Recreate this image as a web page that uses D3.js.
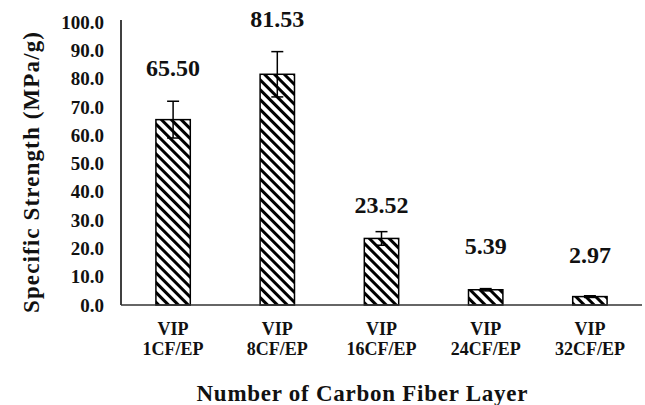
<!DOCTYPE html>
<html><head><meta charset="utf-8">
<script src="https://cdn.jsdelivr.net/npm/d3@7"></script>
<style>body{margin:0;background:#fff}svg{display:block}</style>
</head><body><svg id="c" width="645" height="405"></svg>
<script>
const categories = [["VIP","1CF/EP"],["VIP","8CF/EP"],["VIP","16CF/EP"],["VIP","24CF/EP"],["VIP","32CF/EP"]];
const values = [65.50, 81.53, 23.52, 5.39, 2.97];
const errors = [6.5, 8.0, 2.4, 0.4, 0.3];
const labelAnchors = [80.9, 98.2, 32.5, 18.0, 14.8];
const yTicks = [0,10,20,30,40,50,60,70,80,90,100];

const FONT = '"Liberation Serif", "Times New Roman", serif';
const svg = d3.select("#c");
const m = {l:121, r:642, t:22, b:305};
const x = d3.scaleBand().domain(d3.range(values.length)).range([m.l, m.r]).paddingInner(0.67).paddingOuter(0.335);
const y = d3.scaleLinear().domain([0,100]).range([m.b, m.t]);

function txt(sel, size){ return sel.style("font-family",FONT).style("font-weight","bold").style("font-size",size+"px").attr("fill","#111"); }

const defs = svg.append("defs");
const pat = defs.append("pattern").attr("id","hatch").attr("patternUnits","userSpaceOnUse")
  .attr("width",7).attr("height",7).attr("patternTransform","rotate(-45)");
pat.append("rect").attr("width",7).attr("height",7).attr("fill","#fff");
pat.append("line").attr("x1",1.5).attr("y1",0).attr("x2",1.5).attr("y2",7).attr("stroke","#000").attr("stroke-width",3);

// y tick labels
txt(svg.append("g").selectAll("text").data(yTicks).join("text")
  .attr("x",104).attr("y",d=>y(d)).attr("dy","0.35em").attr("text-anchor","end"),19).text(d=>d.toFixed(1));

// bars
svg.append("g").selectAll("rect").data(values).join("rect")
  .attr("x",(d,i)=>x(i)).attr("width",x.bandwidth())
  .attr("y",d=>y(d)).attr("height",d=>y(0)-y(d))
  .attr("fill","url(#hatch)").attr("stroke","#000").attr("stroke-width",1.5);

// axes lines
svg.append("line").attr("x1",m.l).attr("x2",m.l).attr("y1",m.t-2).attr("y2",m.b).attr("stroke","#000").attr("stroke-width",1.5);
svg.append("line").attr("x1",m.l).attr("x2",m.r).attr("y1",m.b).attr("y2",m.b).attr("stroke","#333").attr("stroke-width",1.5);

// error bars
const eb = svg.append("g").attr("stroke","#000").attr("stroke-width",1.5);
values.forEach((v,i)=>{
  const cx = x(i)+x.bandwidth()/2, e = errors[i];
  eb.append("line").attr("x1",cx).attr("x2",cx).attr("y1",y(v+e)).attr("y2",y(v-e));
  eb.append("line").attr("x1",cx-6).attr("x2",cx+6).attr("y1",y(v+e)).attr("y2",y(v+e));
  eb.append("line").attr("x1",cx-6).attr("x2",cx+6).attr("y1",y(v-e)).attr("y2",y(v-e));
});

// data labels
txt(svg.append("g").selectAll("text").data(values).join("text")
  .attr("x",(d,i)=>x(i)+x.bandwidth()/2).attr("y",(d,i)=>y(labelAnchors[i]))
  .attr("text-anchor","middle"),24).text(d=>d.toFixed(2));

// category labels
const cl = txt(svg.append("g").selectAll("text").data(categories).join("text")
  .attr("x",(d,i)=>x(i)+x.bandwidth()/2).attr("text-anchor","middle"),18);
cl.append("tspan").attr("x",(d,i)=>x(i)+x.bandwidth()/2).attr("y",335).text(d=>d[0]);
cl.append("tspan").attr("x",(d,i)=>x(i)+x.bandwidth()/2).attr("y",355).text(d=>d[1]);

// axis titles
txt(svg.append("text").attr("x",362).attr("y",401).attr("text-anchor","middle")
  .attr("textLength",331).attr("lengthAdjust","spacing"),23).text("Number of Carbon Fiber Layer");
txt(svg.append("text").attr("transform","translate(39,172.5) rotate(-90)").attr("text-anchor","middle")
  .attr("textLength",281).attr("lengthAdjust","spacing"),23).text("Specific Strength (MPa/g)");
</script></body></html>
